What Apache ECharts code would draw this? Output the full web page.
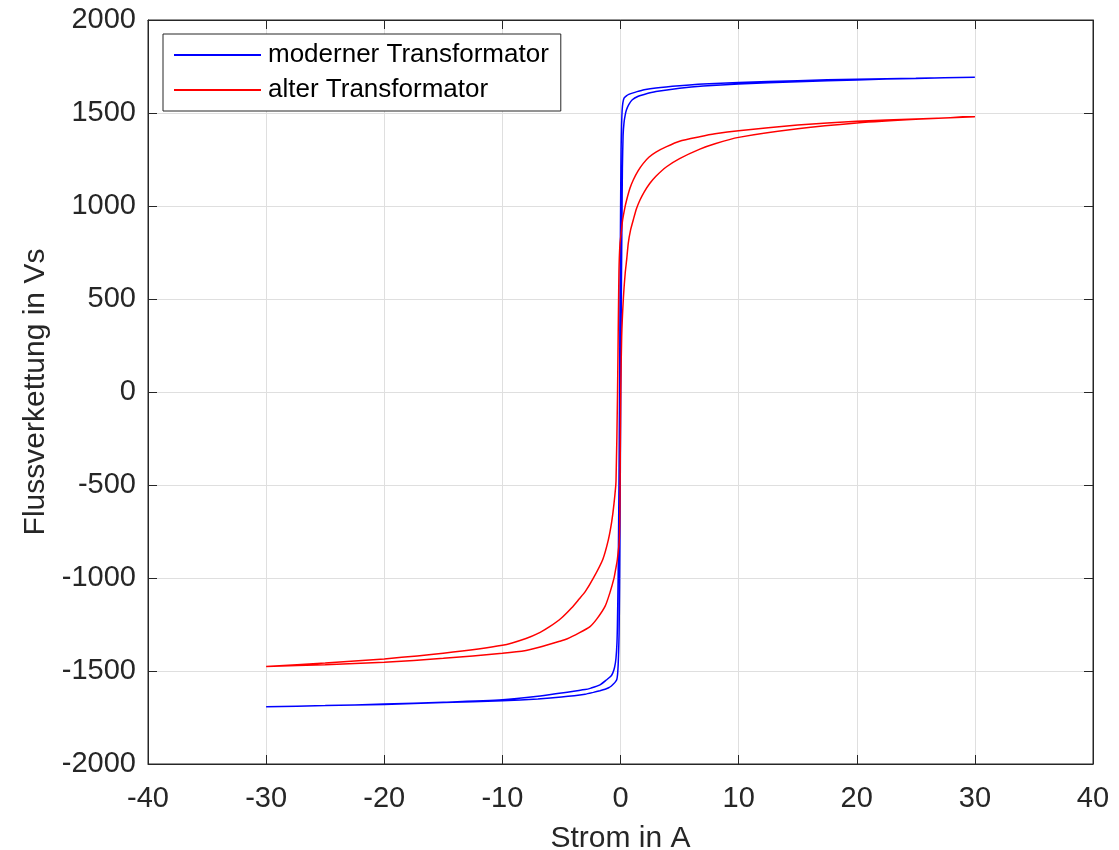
<!DOCTYPE html>
<html>
<head>
<meta charset="utf-8">
<script src="https://cdn.jsdelivr.net/npm/echarts@6/dist/echarts.min.js"></script>
<style>
  html, body { margin: 0; padding: 0; background: #fff; }
  #main { width: 1119px; height: 850px; }
</style>
</head>
<body>
<div id="main"></div>
<script>
// moderner Transformator, absteigender Ast (Strom von +30 nach -30)
const modernDownX = [30, 25, 20, 15, 10, 7, 5, 3, 2, 1.4, 1, 0.7, 0.5, 0.3, 0.2, 0.14, 0.09, 0.05, 0.02, -0.04, -0.08, -0.13, -0.2, -0.26, -0.3, -0.38, -0.5, -0.65, -0.8, -1.17, -1.74, -2.5, -3, -5, -7, -10, -15, -20, -25, -30];
const modernDownY = [1692, 1687, 1682, 1674, 1664, 1656, 1647, 1635, 1625, 1615, 1607, 1600, 1592, 1580, 1555, 1516, 1430, 1300, 1100, 500, 0, -500, -1000, -1250, -1350, -1430, -1480, -1510, -1527, -1547, -1575, -1592, -1600, -1618, -1636, -1655, -1668, -1678, -1686, -1692];
// moderner Transformator, aufsteigender Ast
const modernUpX = [-30, -25, -20, -15, -10, -7, -5, -3, -2.3, -1.74, -1.3, -1, -0.8, -0.6, -0.45, -0.32, -0.25, -0.2, -0.16, -0.12, -0.08, -0.05, 0.02, 0.08, 0.12, 0.16, 0.22, 0.3, 0.4, 0.5, 0.7, 1, 1.5, 2, 3, 5, 7, 10, 15, 20, 25, 30];
const modernUpY = [-1692, -1686, -1680, -1670, -1660, -1650, -1640, -1625, -1615, -1606, -1598, -1590, -1582, -1570, -1560, -1547, -1520, -1470, -1400, -1300, -1050, -800, 0, 600, 900, 1200, 1380, 1450, 1490, 1516, 1545, 1571, 1590, 1600, 1615, 1633, 1645, 1656, 1668, 1678, 1686, 1692];

// alter Transformator, absteigender Ast
const oldDownX = [30, 25, 20, 15, 10, 8, 6.7, 5, 3.9, 3, 2.4, 1.93, 1.5, 1.08, 0.8, 0.52, 0.35, 0.18, 0.05, -0.04, -0.1, -0.13, -0.18, -0.25, -0.38, -0.55, -0.75, -1.03, -1.5, -2.3, -3, -3.5, -4.13, -5, -6, -6.8, -8, -10, -15, -20, -25, -30];
const oldDownY = [1480, 1468, 1455, 1435, 1405, 1388, 1372, 1348, 1319, 1290, 1262, 1229, 1190, 1140, 1095, 1032, 985, 925, 850, 800, 720, 650, 400, 0, -480, -600, -700, -795, -900, -1001, -1075, -1113, -1160, -1215, -1262, -1292, -1325, -1362, -1405, -1435, -1457, -1476];
// alter Transformator, aufsteigender Ast
const oldUpX = [-30, -25, -20, -15, -10, -8, -6.8, -5.15, -4.55, -3.5, -2.58, -2, -1.31, -0.9, -0.55, -0.4, -0.27, -0.1, -0.05, 0.02, 0.1, 0.24, 0.4, 0.52, 0.66, 0.85, 1.08, 1.35, 1.65, 2, 2.49, 3, 3.9, 5, 6.72, 8, 10, 15, 20, 25, 30];
const oldUpY = [-1476, -1466, -1453, -1432, -1405, -1390, -1371, -1340, -1328, -1295, -1261, -1220, -1153, -1080, -1001, -950, -902, -795, -600, 0, 300, 500, 640, 710, 800, 870, 925, 985, 1032, 1075, 1122, 1160, 1211, 1255, 1306, 1335, 1369, 1415, 1446, 1466, 1480];

const seriesNames = ['moderner Transformator', 'alter Transformator'];

function loop(downX, downY, upX, upY) {
    const pts = [];
    downX.forEach((x, i) => pts.push([x, downY[i]]));
    upX.forEach((x, i) => pts.push([x, upY[i]]));
    return pts;
}

const axisColor = '#262626';
const font = 'Liberation Sans, Arial, Helvetica, sans-serif';
const plain = v => String(v);

const myChart = echarts.init(document.getElementById('main'));
myChart.setOption({
    animation: false,
    textStyle: { fontFamily: font },
    grid: {
        left: 148, right: 26, top: 20, bottom: 86,
        outerBoundsMode: 'none',
        show: true, borderColor: axisColor, borderWidth: 1
    },
    legend: {
        orient: 'vertical',
        left: 163, top: 34,
        padding: [8, 12, 8, 10],
        itemWidth: 87, itemHeight: 26, itemGap: 9,
        backgroundColor: '#fff',
        borderColor: axisColor, borderWidth: 1,
        itemStyle: { opacity: 0 },
        textStyle: { fontSize: 26, color: '#000', fontFamily: font, padding: [0, 0, 0, 2] },
        data: seriesNames
    },
    xAxis: [{
        type: 'value', min: -40, max: 40, interval: 10,
        name: 'Strom in A', nameLocation: 'middle', nameGap: 60,
        nameTextStyle: { fontSize: 30, color: axisColor },
        axisLine: { onZero: false, lineStyle: { color: axisColor } },
        axisTick: { inside: true, length: 9, lineStyle: { color: axisColor } },
        axisLabel: { fontSize: 29, color: axisColor, margin: 20, formatter: plain },
        splitLine: { lineStyle: { color: '#dfdfdf' } }
    }, {
        type: 'value', min: -40, max: 40, interval: 10, position: 'top',
        axisLine: { onZero: false, lineStyle: { color: axisColor } },
        axisTick: { inside: true, length: 9, lineStyle: { color: axisColor } },
        axisLabel: { show: false },
        splitLine: { show: false }
    }],
    yAxis: [{
        type: 'value', min: -2000, max: 2000, interval: 500,
        name: 'Flussverkettung in Vs', nameLocation: 'middle', nameGap: 96,
        nameTextStyle: { fontSize: 30, color: axisColor },
        axisLine: { show: true, onZero: false, lineStyle: { color: axisColor } },
        axisTick: { show: true, inside: true, length: 9, lineStyle: { color: axisColor } },
        axisLabel: { fontSize: 29, color: axisColor, margin: 12, formatter: plain },
        splitLine: { lineStyle: { color: '#dfdfdf' } }
    }, {
        type: 'value', min: -2000, max: 2000, interval: 500, position: 'right',
        axisLine: { show: true, onZero: false, lineStyle: { color: axisColor } },
        axisTick: { show: true, inside: true, length: 9, lineStyle: { color: axisColor } },
        axisLabel: { show: false },
        splitLine: { show: false }
    }],
    series: [{
        name: seriesNames[0],
        type: 'line',
        symbol: 'none',
        smooth: 0.2,
        color: '#0000ff',
        lineStyle: { width: 1.5, color: '#0000ff' },
        data: loop(modernDownX, modernDownY, modernUpX, modernUpY)
    }, {
        name: seriesNames[1],
        type: 'line',
        symbol: 'none',
        smooth: 0.2,
        color: '#ff0000',
        lineStyle: { width: 1.5, color: '#ff0000' },
        data: loop(oldDownX, oldDownY, oldUpX, oldUpY)
    }]
});
</script>
</body>
</html>
